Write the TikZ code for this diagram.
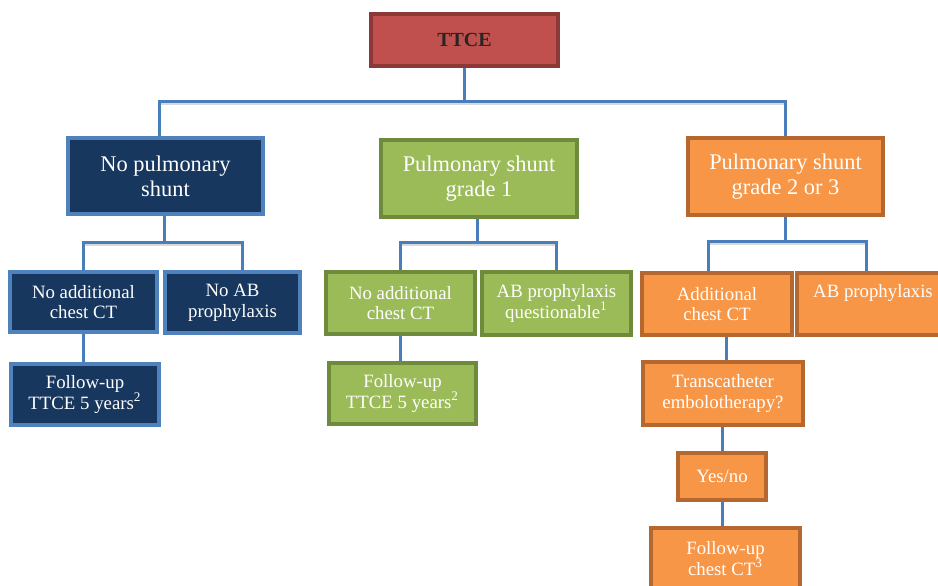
\documentclass[tikz,border=0pt]{standalone}
\usepackage{fontspec}
\setmainfont{Liberation Serif}
\usetikzlibrary{backgrounds}
\definecolor{navy}{HTML}{17375E}
\definecolor{navyedge}{HTML}{4F81BD}
\definecolor{leaf}{HTML}{9BBB59}
\definecolor{leafedge}{HTML}{6E8B3D}
\definecolor{amber}{HTML}{F79646}
\definecolor{amberedge}{HTML}{B4672F}
\definecolor{brick}{HTML}{C0504D}
\definecolor{brickedge}{HTML}{8C3836}
\definecolor{wirecol}{HTML}{4A7EBB}
\tikzset{
box/.style={draw,line width=1.7pt,inner sep=0pt,align=center,text=white,font=\fontsize{9.4}{10.4}\selectfont},
big/.style={font=\fontsize{11.2}{12.5}\selectfont},
navybox/.style={box,fill=navy,draw=navyedge},
leafbox/.style={box,fill=leaf,draw=leafedge},
amberbox/.style={box,fill=amber,draw=amberedge},
wire/.style={draw=wirecol,line width=1.5pt},
bus/.style={wire,preaction={draw=black!15,line width=1.5pt,transform canvas={yshift=-1.2pt}}}
}
\begin{document}
\begin{tikzpicture}[x=0.5pt,y=-0.5pt]
\useasboundingbox(0,0)rectangle(938,585);
\node[box,fill=brick,draw=brickedge,text=black!85,font=\fontsize{10}{12}\selectfont\bfseries,minimum width=93.5pt,minimum height=26pt](ttce)at(464.5,40){TTCE};
% first level
\node[navybox,big,minimum width=97.5pt,minimum height=38pt](none)at(165.5,176){No pulmonary\\shunt};
\node[leafbox,big,minimum width=98pt,minimum height=38.5pt](one)at(479,178.5){Pulmonary shunt\\grade 1};
\node[amberbox,big,minimum width=97.5pt,minimum height=38.5pt](two)at(785.5,176.5){Pulmonary shunt\\grade 2 or 3};
% second level
\node[navybox,minimum width=73.5pt,minimum height=30pt](noneCT)at(83.5,302){No additional\\chest CT};
\node[navybox,minimum width=67.5pt,minimum height=30.5pt](noneAB)at(232.5,302.5){No AB\\prophylaxis};
\node[navybox,minimum width=74pt,minimum height=30.5pt](noneFU)at(85,394.5){Follow-up\\TTCE 5 years\textsuperscript{2}};
\node[leafbox,minimum width=74.5pt,minimum height=31pt](oneCT)at(400.5,303){No additional\\chest CT};
\node[leafbox,minimum width=74.5pt,minimum height=31.5pt](oneAB)at(556.5,303.5){AB prophylaxis\\questionable\textsuperscript{1}};
\node[leafbox,minimum width=73.5pt,minimum height=30.5pt](oneFU)at(402.5,393.5){Follow-up\\TTCE 5 years\textsuperscript{2}};
\node[amberbox,minimum width=75pt,minimum height=31pt](twoCT)at(717,304){Additional\\chest CT};
\node[amberbox,minimum width=76pt,minimum height=31pt](twoAB)at(873,304){AB prophylaxis\\\strut};
\node[amberbox,minimum width=80pt,minimum height=31.5pt](emb)at(723,393.5){Transcatheter\\embolotherapy?};
\node[amberbox,minimum width=44pt,minimum height=23.5pt](yn)at(722,476.5){Yes/no};
\node[amberbox,minimum width=74.5pt,minimum height=30.5pt](twoFU)at(725.5,558.5){Follow-up\\chest CT\textsuperscript{3}};
% connectors
\coordinate(top)at(464,101);
\coordinate(ljoin)at(164,242);
\coordinate(mjoin)at(477,242);
\coordinate(rjoin)at(785,241);
\coordinate(ctdrop)at([xshift=4.5pt]twoCT.south);
\begin{pgfonlayer}{background}
\draw[wire](ttce.south-|top)--(top);
\draw[bus]([xshift=-3pt]none.north)|-(top)-|(two.north);
\draw[wire](none.south-|ljoin)--(ljoin);
\draw[bus](noneCT.north)|-(ljoin)-|([xshift=5pt]noneAB.north);
\draw[wire](one.south-|mjoin)--(mjoin);
\draw[bus](oneCT.north)|-(mjoin)-|(oneAB.north);
\draw[wire](two.south-|rjoin)--(rjoin);
\draw[bus]([xshift=-4.5pt]twoCT.north)|-(rjoin)-|([xshift=-3.5pt]twoAB.north);
\draw[wire](noneCT.south)--(noneCT.south|-noneFU.north);
\draw[wire](oneCT.south)--(oneCT.south|-oneFU.north);
\draw[wire](ctdrop)--(ctdrop|-emb.north);
\draw[wire](emb.south-|yn.north)--(yn.north);
\draw[wire](yn.south)--(yn.south|-twoFU.north);
\end{pgfonlayer}
\end{tikzpicture}
\end{document}
